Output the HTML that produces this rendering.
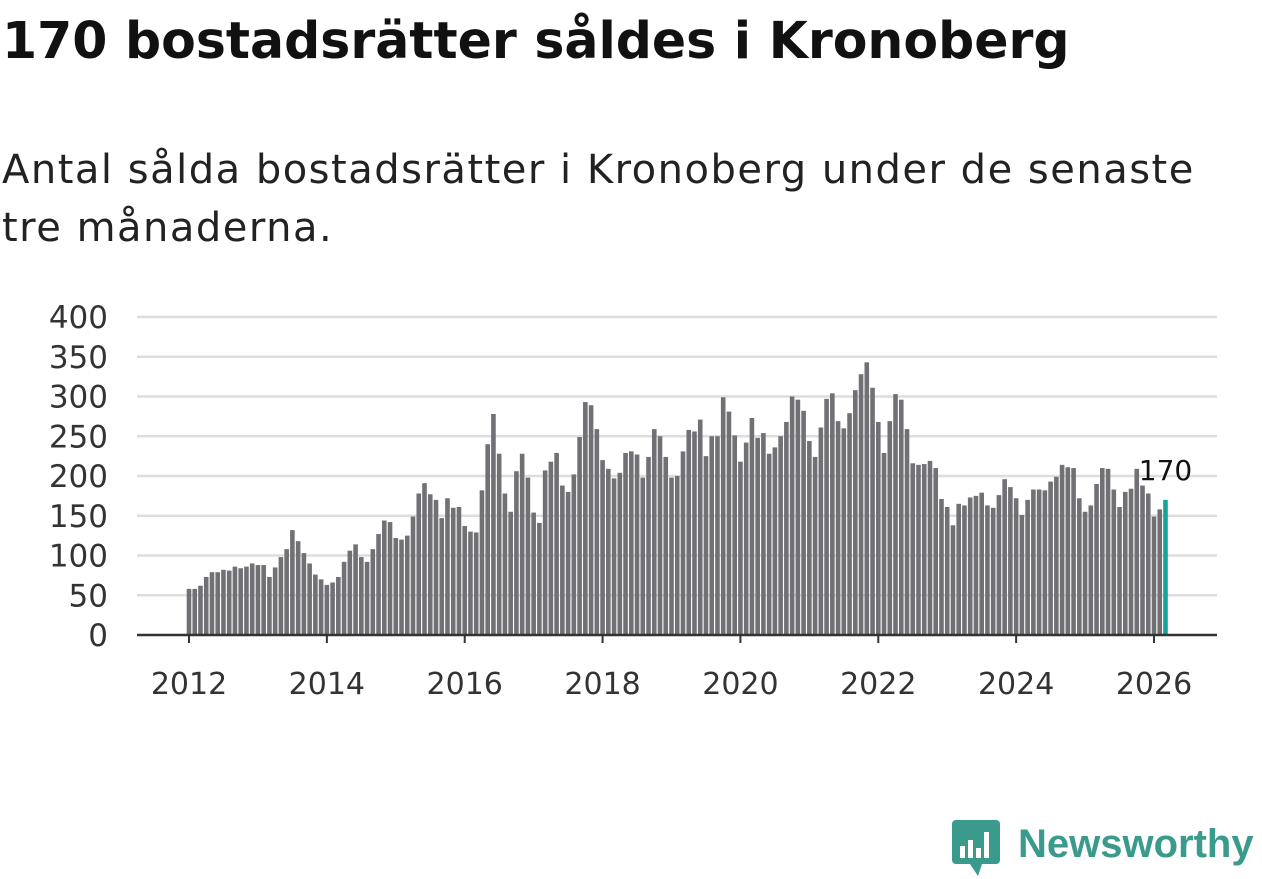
<!DOCTYPE html>
<html><head><meta charset="utf-8"><style>
body{margin:0;width:1262px;height:879px;background:#fff;font-family:"DejaVu Sans","Liberation Sans",sans-serif;overflow:hidden;position:relative}
h1{position:absolute;left:2px;top:11px;margin:0;font-size:50.5px;font-weight:bold;color:#111;letter-spacing:0px;white-space:nowrap}
.sub{position:absolute;left:2px;top:141px;margin:0;font-size:40px;line-height:58px;color:#222;width:1260px;letter-spacing:1.5px;white-space:nowrap}
svg{position:absolute;left:0;top:0}
</style></head><body>
<h1>170 bostadsrätter såldes i Kronoberg</h1>
<p class="sub">Antal sålda bostadsrätter i Kronoberg under de senaste<br>tre månaderna.</p>
<svg id="chart" width="1262" height="879"></svg>
<div style="position:absolute;left:952px;top:820px;display:flex;align-items:center">
<svg width="50" height="58" style="position:static"><rect x="0" y="0" width="48" height="44" rx="4" fill="#3a9a8c"/><path d="M18 44 L26 56 L30 44Z" fill="#3a9a8c"/><rect x="8" y="26" width="5" height="12" fill="#fff"/><rect x="16" y="20" width="5" height="18" fill="#fff"/><rect x="24" y="28" width="5" height="10" fill="#fff"/><rect x="32" y="12" width="5" height="26" fill="#fff"/></svg>
<span style="font-family:'Liberation Sans',sans-serif;font-size:40px;color:#3a9a8c;font-weight:bold;margin-left:16px;margin-top:-10px">Newsworthy</span></div>
<script>
const values=[58,58,62,73,79,79,82,81,86,84,86,90,
88,88,73,85,98,108,132,118,103,90,76,70,
63,66,73,92,106,114,98,92,108,127,144,142,
122,120,125,149,178,191,177,170,147,172,160,161,
137,130,129,182,240,278,228,178,155,206,228,198,
154,141,207,218,229,188,180,202,249,293,289,259,
220,209,197,204,229,231,227,198,224,259,250,224,
198,200,231,258,256,271,225,250,250,299,281,251,
218,242,273,248,254,228,236,250,268,300,296,282,
244,224,261,297,304,269,260,279,308,328,343,311,
268,229,269,303,296,259,216,214,215,219,210,171,
161,138,165,163,173,175,179,163,160,176,196,186,
172,151,170,183,183,182,193,199,214,211,210,172,
155,163,190,210,209,183,161,180,184,209,188,178,
149,158,170];
const yTicks=[0,50,100,150,200,250,300,350,400];
const xTicks=[2012,2014,2016,2018,2020,2022,2024,2026];
const startYear=2012;
const svg=document.getElementById('chart');
const NS='http://www.w3.org/2000/svg';
const y=v=>635-v*(318/400);
const x=m=>189+m*(965/168);
function mk(t,a){const e=document.createElementNS(NS,t);for(const k in a)e.setAttribute(k,a[k]);svg.appendChild(e);return e;}
yTicks.forEach(t=>{
 if(t>0){const g=mk('line',{x1:137,x2:1217,y1:y(t),y2:y(t),stroke:'#ddd','stroke-width':2.5});
 
 }
 const l=mk('text',{x:108,y:y(t)+11,'text-anchor':'end','font-size':31,fill:'#333'});
 l.textContent=t;
 
 
});
values.forEach((v,i)=>{
 const last=i===values.length-1;
 const r=mk('rect',{x:x(i)-2.3,y:y(v),width:4.6,height:635-y(v),fill:last?'#17a398':'#707075'});
 
 
});
const ax=mk('line',{x1:137,x2:1217,y1:635,y2:635,stroke:'#333','stroke-width':2.5});


xTicks.forEach(t=>{
 const xx=x((t-startYear)*12);
 const tk=mk('line',{x1:xx,x2:xx,y1:635,y2:643,stroke:'#333','stroke-width':2});
 
 
 const l=mk('text',{x:xx,y:694,'text-anchor':'middle','font-size':30,fill:'#333'});
 l.textContent=t;
 
 
});
const li=values.length-1;
const lab=mk('text',{x:x(li),y:y(values[li])-20,'text-anchor':'middle','font-size':28,fill:'#111'});
lab.textContent=values[li];


</script>
</body></html>
